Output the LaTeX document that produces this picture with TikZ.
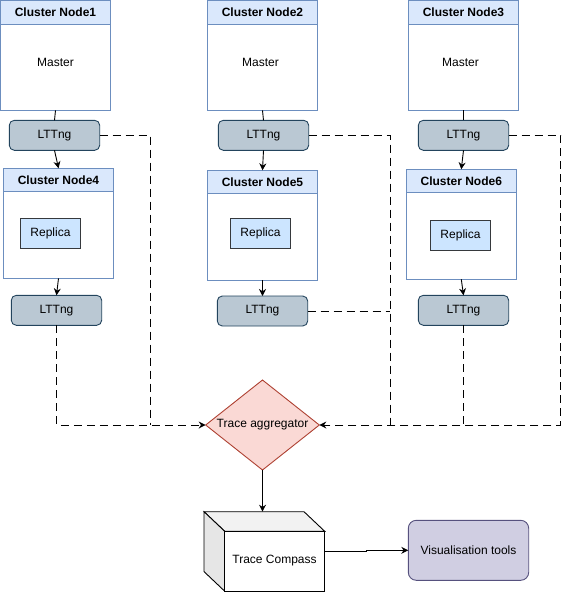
\documentclass[tikz,border=0pt]{standalone}
\usepackage{fontspec}
\setmainfont{Liberation Sans}
\usetikzlibrary{arrows.meta,shapes.geometric}
\definecolor{laneFill}{HTML}{DAE8FC}
\definecolor{laneLine}{HTML}{6C8EBF}
\definecolor{ltFill}{HTML}{BAC8D3}
\definecolor{ltLine}{HTML}{23445D}
\definecolor{repFill}{HTML}{CCE5FF}
\definecolor{repLine}{HTML}{36393D}
\definecolor{aggFill}{HTML}{FAD9D5}
\definecolor{aggLine}{HTML}{AE4132}
\definecolor{visFill}{HTML}{D0CEE2}
\definecolor{visLine}{HTML}{56517E}
\definecolor{cubeTop}{HTML}{F2F2F2}
\definecolor{cubeSide}{HTML}{E6E6E6}
\tikzset{
  lane/.style={draw=laneLine, fill=white, line width=0.9pt, anchor=north west, inner sep=0pt, outer sep=0pt},
  lanehead/.style={draw=laneLine, fill=laneFill, line width=0.9pt, anchor=north west, inner sep=0pt, outer sep=0pt, minimum height=23.3pt, font=\fontsize{12}{14}\selectfont\bfseries},
  ltbox/.style={draw=ltLine, fill=ltFill, line width=0.9pt, rounded corners=5pt, anchor=north west, inner sep=0pt, outer sep=0pt, minimum width=90.4pt, minimum height=30pt, font=\fontsize{12}{14}\selectfont},
  repbox/.style={draw=repLine, fill=repFill, line width=0.9pt, anchor=north west, inner sep=0pt, outer sep=0pt, minimum width=60.4pt, minimum height=30pt, font=\fontsize{12}{14}\selectfont},
  lbl/.style={font=\fontsize{12}{14}\selectfont, inner sep=0pt},
  conn/.style={line width=0.9pt, draw=black},
  arr/.style={conn, -{Stealth[length=7pt,width=7pt]}},
  dashline/.style={conn, dash pattern=on 8pt off 5pt},
}
\begin{document}
\begin{tikzpicture}[x=1pt,y=-1pt]
\useasboundingbox (0,0) rectangle (569,592);
% Column 1
\node[lane, minimum width=109.6pt, minimum height=109.6pt] (c1) at (0.7,0.7) {};
\node[lanehead, minimum width=109.6pt] (h1) at (0.7,0.7) {Cluster Node1};
\node[lbl] (m1) at (55.5,62) {Master};
\node[ltbox] (l1) at (9.3,120.3) {LTTng};
\node[lane, minimum width=110.4pt, minimum height=110pt] (c4) at (3.3,168.3) {};
\node[lanehead, minimum width=110.4pt] (h4) at (3.3,168.3) {Cluster Node4};
\node[repbox] (r4) at (20.3,218.3) {Replica};
\node[ltbox] (l4) at (11.3,295.3) {LTTng};
% Column 2
\node[lane, minimum width=110.4pt, minimum height=109.6pt] (c2) at (207.3,0.7) {};
\node[lanehead, minimum width=110.4pt] (h2) at (207.3,0.7) {Cluster Node2};
\node[lbl] (m2) at (260.5,62) {Master};
\node[ltbox] (l2) at (218.3,120.3) {LTTng};
\node[lane, minimum width=110.4pt, minimum height=109.7pt] (c5) at (207.3,170.3) {};
\node[lanehead, minimum width=110.4pt] (h5) at (207.3,170.3) {Cluster Node5};
\node[repbox] (r5) at (230.3,218.3) {Replica};
\node[ltbox] (l5) at (217.3,296) {LTTng};
% Column 3
\node[lane, minimum width=110.4pt, minimum height=109.6pt] (c3) at (408.3,0.7) {};
\node[lanehead, minimum width=110.4pt] (h3) at (408.3,0.7) {Cluster Node3};
\node[lbl] (m3) at (460.5,62) {Master};
\node[ltbox] (l3) at (418.3,120.3) {LTTng};
\node[lane, minimum width=110pt, minimum height=110pt] (c6) at (406.3,169.3) {};
\node[lanehead, minimum width=110pt] (h6) at (406.3,169.3) {Cluster Node6};
\node[repbox] (r6) at (430.3,220.3) {Replica};
\node[ltbox] (l6) at (418.3,295.3) {LTTng};
% Aggregator
\node[diamond, draw=aggLine, fill=aggFill, line width=0.9pt, inner sep=0pt, outer sep=0pt, aspect=1.262, minimum width=113.6pt, minimum height=90pt] (agg) at (262.5,425) {};
\node[lbl] (aggt) at (262.5,425) {Trace aggregator};
% Cube
\fill[cubeTop, draw=black, line width=0.9pt] (204,511.7) -- (304,511.7) -- (324.7,531.3) -- (224.7,531.3) -- cycle;
\fill[cubeSide, draw=black, line width=0.9pt] (204,511.7) -- (224.7,531.3) -- (224.7,591.2) -- (204,571.6) -- cycle;
\node[draw=black, fill=white, line width=0.9pt, anchor=north west, inner sep=0pt, outer sep=0pt, minimum width=100pt, minimum height=59.9pt] (tc) at (224.7,531.3) {};
\node[lbl] (tct) at (274.5,561) {Trace Compass};
\coordinate (tctop) at (262.5,511.7);
% Visualisation
\node[draw=visLine, fill=visFill, line width=0.9pt, rounded corners=8pt, anchor=north west, inner sep=0pt, outer sep=0pt, minimum width=120.4pt, minimum height=60pt, font=\fontsize{12}{14}\selectfont] (vis) at (408.3,520.3) {Visualisation tools};
% junction coordinates
\coordinate (jL) at (150.5,425);
\coordinate (jM) at (390.3,425);
\coordinate (jR) at (560.7,425);
\coordinate (tcout) at (324.7,551.7);
% solid connectors
\draw[conn] (c1.south) -- (l1.north);
\draw[arr] (l1.south) -- (c4.north);
\draw[arr] (c4.south) -- (l4.north);
\draw[conn] (c2.south) -- (l2.north);
\draw[arr] (l2.south) -- (c5.north);
\draw[arr] (c5.south) -- (l5.north);
\draw[conn] (c3.south) -- (l3.north);
\draw[arr] (l3.south) -- (c6.north);
\draw[arr] (c6.south) -- (l6.north);
\draw[arr] (agg.south) -- (tctop);
\draw[arr] (tcout) -- (366.7,551.7) -- (366.7,550.3) -- (vis.west);
% dashed connectors
\draw[dashline] (l1.east) -| (jL);
\draw[dashline, -{Stealth[length=7pt,width=7pt]}] (l4.south) |- (agg.west);
\draw[dashline] (l2.east) -| (jM);
\draw[dashline] (l5.east) -- (l5.east -| jM);
\draw[dashline, -{Stealth[length=7pt,width=7pt]}] (l3.east) -| (jR) -- (agg.east);
\draw[dashline] (l6.south) -- (l6.south |- jR);
\end{tikzpicture}
\end{document}
